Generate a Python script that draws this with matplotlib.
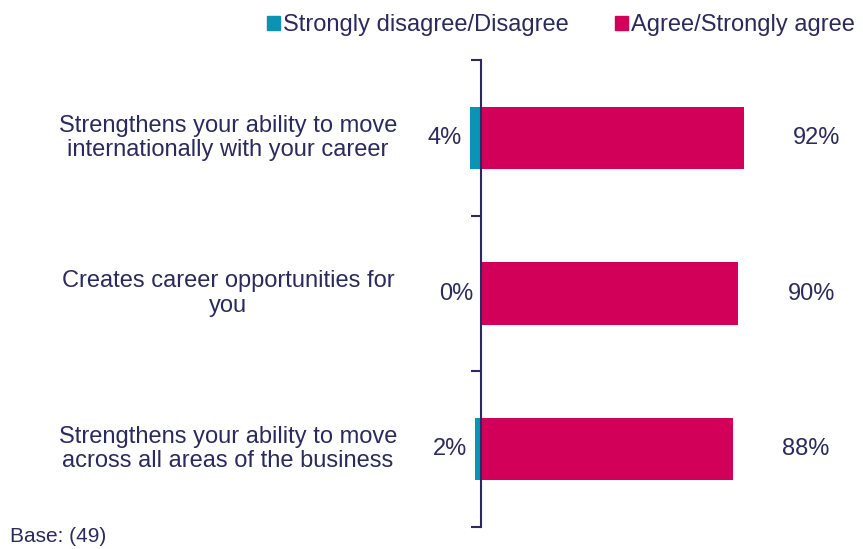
import matplotlib.pyplot as plt
from matplotlib.patches import Patch
import matplotlib.transforms as mtrans

plt.rcParams['font.family'] = ['Liberation Sans', 'DejaVu Sans']

categories = ["Strengthens your ability to move\ninternationally with your career",
              "Creates career opportunities for\nyou",
              "Strengthens your ability to move\nacross all areas of the business"]
disagree = [4, 0, 2]
agree = [92, 90, 88]
series_names = ["Strongly disagree/Disagree", "Agree/Strongly agree"]

teal = "#0a93b4"
pink = "#d3005a"
navy = "#2b2a5c"

fig = plt.figure(figsize=(8.63, 5.49), dpi=100)
ax = fig.add_axes([420/863, 22/549, 443/863, 467/549])

y = list(range(len(categories)))
ax.barh(y, [-d for d in disagree], height=0.4, color=teal)
ax.barh(y, agree, height=0.4, color=pink)

ax.set_xlim(-(481-420)/2.86, (863-481)/2.86)
ax.set_ylim(2.5, -0.5)

for s in ['top', 'right', 'bottom']:
    ax.spines[s].set_visible(False)
ax.spines['left'].set_position(('data', 0))
ax.spines['left'].set_color(navy)
ax.spines['left'].set_linewidth(1.5)
ax.set_xticks([])
ax.set_yticks([-0.5, 0.5, 1.5, 2.5])
ax.set_yticklabels([])
ax.tick_params(axis='y', length=7, width=1.5, color=navy, direction='out')

for i in y:
    ax.text(agree[i] + 25.5, i, f"{agree[i]}%", ha='center', va='center',
            fontsize=17, color=navy)
    ax.text(-disagree[i] - 2.7, i, f"{disagree[i]}%", ha='right', va='center',
            fontsize=17, color=navy)

trans = mtrans.blended_transform_factory(fig.transFigure, ax.transData)
for i, c in enumerate(categories):
    ax.text(228/863, i, c, transform=trans, ha='center', va='center',
            fontsize=17, color=navy, linespacing=1.15)

handles = [Patch(color=teal), Patch(color=pink)]
fig.legend(handles, series_names, loc='center', bbox_to_anchor=(561/863, 1-25/549),
           ncol=2, frameon=False, fontsize=17, labelcolor=navy,
           handlelength=0.55, handleheight=0.55, handletextpad=0.15,
           columnspacing=1.95, borderpad=0)

fig.text(10/863, 1-536/549, "Base: (49)", fontsize=15, color=navy, va='center')

fig.savefig("out.png", dpi=100)
